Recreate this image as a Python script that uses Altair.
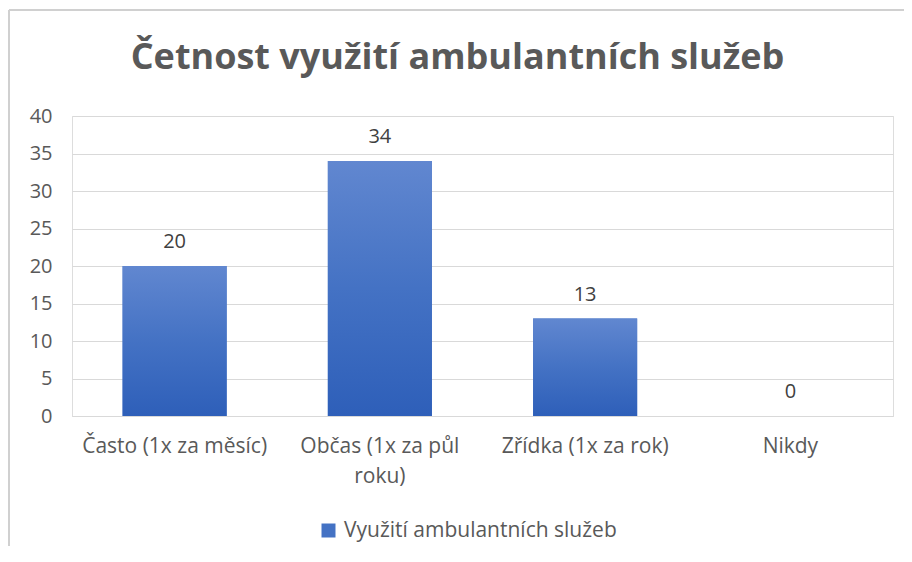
import altair as alt
import pandas as pd

categories = ["Často (1x za měsíc)", "Občas (1x za půl roku)", "Zřídka (1x za rok)", "Nikdy"]
values = [20, 34, 13, 0]
series_name = "Využití ambulantních služeb"
chart_title = "Četnost využití ambulantních služeb"
y_ticks = [0, 5, 10, 15, 20, 25, 30, 35, 40]

df = pd.DataFrame({"cat": categories, "val": values, "series": [series_name] * len(categories)})

FONT = "Open Sans"
GRAY = "#595959"
GRID = "#d9d9d9"
FRAME = "#d0d0d0"

x_enc = alt.X(
    "cat:N",
    sort=categories,
    title=None,
    scale=alt.Scale(paddingInner=0.493, paddingOuter=0.2465),
    axis=alt.Axis(
        labelAngle=0,
        labelFontSize=21,
        labelFont=FONT,
        labelColor=GRAY,
        labelPadding=19,
        ticks=False,
        domainColor=GRID,
        labelLimit=300,
        labelBaseline="top",
        labelLineHeight=30,
        labelExpr="datum.label == 'Občas (1x za půl roku)' ? ['Občas (1x za půl', 'roku)'] : datum.label",
    ),
)
y_enc = alt.Y(
    "val:Q",
    scale=alt.Scale(domain=[0, 40]),
    axis=alt.Axis(
        values=y_ticks,
        title=None,
        domain=False,
        ticks=False,
        labelFontSize=20,
        labelFont=FONT,
        labelColor=GRAY,
        labelPadding=20,
        grid=True,
        gridColor=GRID,
    ),
)

gradient = alt.Gradient(
    gradient="linear",
    stops=[
        alt.GradientStop(color="#6187D0", offset=0),
        alt.GradientStop(color="#4472C4", offset=0.5),
        alt.GradientStop(color="#2E5FB9", offset=1),
    ],
    x1=0, x2=0, y1=0, y2=1,
)

base = alt.Chart(df)

legend_bars = base.mark_bar().encode(
    x=x_enc,
    y=y_enc,
    color=alt.Color(
        "series:N",
        scale=alt.Scale(range=["#4472C4"]),
        legend=alt.Legend(
            title=None,
            orient="none",
            legendX=246,
            legendY=404,
            direction="horizontal",
            symbolType="square",
            symbolSize=196,
            symbolStrokeWidth=0,
            labelFontSize=21,
            labelFont=FONT,
            labelColor=GRAY,
            labelLimit=400,
            labelOffset=5,
            padding=0,
        ),
    ),
)

grad_bars = base.mark_bar(fill=gradient).encode(x=x_enc, y=y_enc)

labels = base.mark_text(
    dy=-24, baseline="middle", fontSize=20, font=FONT, color="#404040"
).encode(x=x_enc, y=y_enc, text="val:Q")

frame_top = alt.Chart(df).mark_rule(stroke=FRAME, strokeWidth=2).encode(
    x=alt.value(-63), x2=alt.value(900), y=alt.value(-106)
)
frame_left = alt.Chart(df).mark_rule(stroke=FRAME, strokeWidth=2).encode(
    x=alt.value(-63), y=alt.value(-106), y2=alt.value(500)
)

chart = (
    alt.layer(legend_bars, grad_bars, labels, frame_top, frame_left)
    .properties(
        width=821,
        height=300,
        autosize=alt.AutoSizeParams(type="none"),
        padding={"left": 64, "top": 108, "right": 11, "bottom": 130},
        title=alt.TitleParams(
            text=chart_title,
            fontSize=36,
            font=FONT,
            fontWeight="bold",
            color=GRAY,
            anchor="middle",
            dx=-25,
            baseline="alphabetic",
            offset=-96,
        ),
    )
    .configure_view(stroke=None)
    .configure(background="white")
)

chart.save("out.html", embed_options={"renderer": "svg", "actions": False})
